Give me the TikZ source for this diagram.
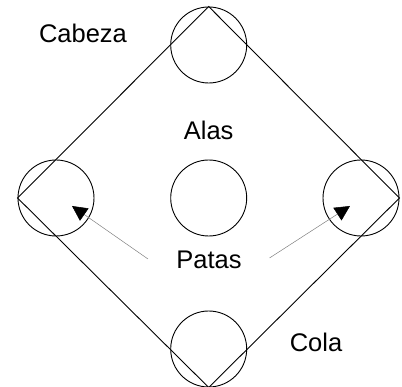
\documentclass[tikz,border=0pt]{standalone}
\usepackage{fontspec}
\setmainfont{Liberation Sans}
\usetikzlibrary{arrows.meta}
\begin{document}
\begin{tikzpicture}[x=1pt,y=-1pt,
  part/.style={draw=black,line width=0.9pt,circle,minimum size=76pt,inner sep=0pt},
  lbl/.style={font=\fontsize{25.5}{30}\selectfont,anchor=base,inner sep=0pt},
  edge/.style={draw=black,line width=0.9pt},
  pointer/.style={draw=black!50,line width=0.5pt,-{Triangle[length=15pt,width=15pt,color=black,fill=black]}}]
\useasboundingbox (0,0) rectangle (402,387);
\node[part] (head) at (208.7,45) {};
\node[part] (left) at (56,198) {};
\node[part] (right) at (361,198) {};
\node[part] (mid) at (208.7,198) {};
\node[part] (tail) at (208.7,349) {};
\coordinate (top) at (head.north);
\coordinate (lv) at (left.west);
\coordinate (rv) at (right.east);
\coordinate (bot) at (tail.south);
\draw[edge] (top) -- (lv) -- (bot) -- (rv) -- cycle;
\node[lbl] (cabeza) at (83,43) {Cabeza};
\node[lbl] (alas) at (208.7,140) {Alas};
\node[lbl] (patas) at (209,269) {Patas};
\node[lbl] (cola) at (316,352) {Cola};
\coordinate (pl) at (148,259);
\coordinate (pr) at (269.5,258);
\coordinate (tl) at (72,206);
\coordinate (tr) at (350,206);
\draw[pointer] (pl) -- (tl);
\draw[pointer] (pr) -- (tr);
\end{tikzpicture}
\end{document}
